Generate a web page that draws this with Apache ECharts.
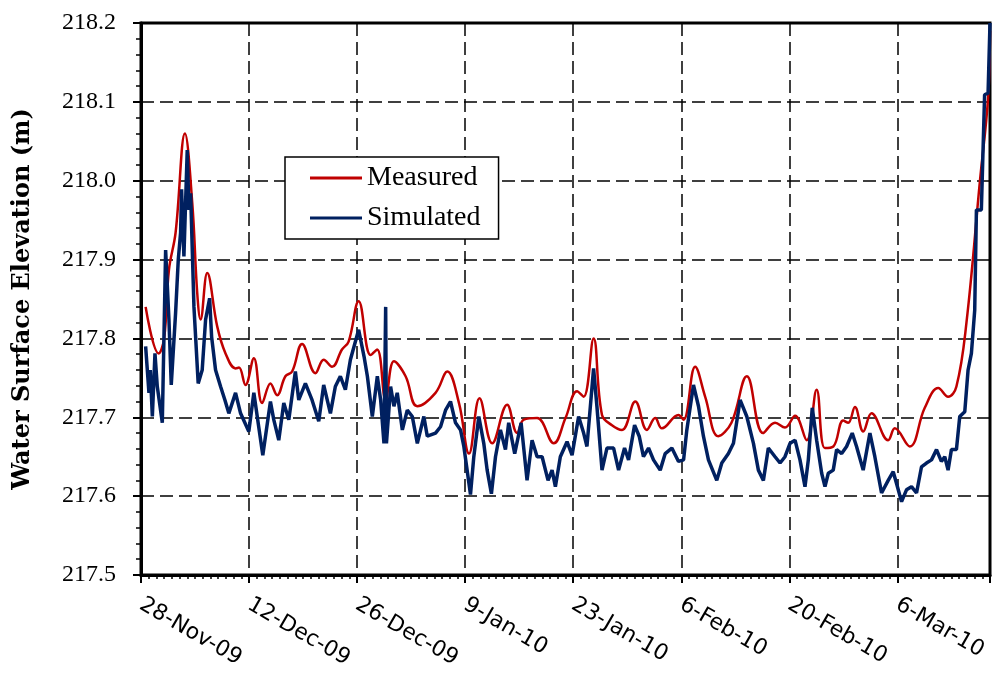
<!DOCTYPE html>
<html>
<head>
<meta charset="utf-8">
<script src="https://cdn.jsdelivr.net/npm/echarts@6/dist/echarts.min.js"></script>
<style>
html,body{margin:0;padding:0;background:#fff;}
#chart{width:997px;height:673px;}
</style>
</head>
<body>
<div id="chart"></div>
<script>
// x values: days since 28-Nov-2009
const tickLabels = ['28-Nov-09','12-Dec-09','26-Dec-09','9-Jan-10','23-Jan-10','6-Feb-10','20-Feb-10','6-Mar-10'];
const xMaxDay = 110; // 18-Mar-10

const measuredDay = [0.6,2.3,3.0,3.62,4.48,5.69,6.64,7.29,7.72,8.58,9.88,10.95,12.25,12.7,13.54,14.62,15.7,16.77,17.64,18.71,19.58,20.87,22.6,23.67,24.75,26.04,26.9,28.2,29.75,30.6,31.7,32.77,34.28,35.8,38.16,39.68,41.2,42.5,43.86,45.5,47.44,48.73,49.6,51.32,53.47,55.0,56.5,57.35,58.64,59.73,61.02,62.32,64.04,65.55,66.62,67.49,69.64,70.3,71.8,73.1,74.8,76.5,78.5,80.6,82.15,83.44,84.74,86.25,87.54,88.6,89.7,90.98,91.63,92.5,93.57,94.65,96.8,97.67,99.6,101.55,103.3,104.57,105.65,106.95,108.7,109.75,110];
const measuredVal = [217.840,217.781,217.800,217.887,217.934,218.060,217.972,217.857,217.824,217.883,217.815,217.781,217.762,217.763,217.741,217.775,217.718,217.743,217.728,217.752,217.758,217.793,217.756,217.773,217.764,217.786,217.796,217.847,217.779,217.786,217.722,217.771,217.752,217.714,217.731,217.758,217.718,217.654,217.724,217.667,217.716,217.680,217.697,217.699,217.667,217.699,217.733,217.726,217.800,217.703,217.690,217.684,217.720,217.684,217.699,217.686,217.703,217.697,217.764,217.726,217.676,217.693,217.752,217.680,217.693,217.687,217.702,217.671,217.735,217.661,217.663,217.696,217.693,217.713,217.682,217.705,217.671,217.686,217.663,217.712,217.737,217.726,217.739,217.820,218.000,218.105,218.190];

const simulatedDay = [0.6,1.03,1.2,1.47,1.81,2.11,2.76,3.19,3.62,3.92,4.48,4.83,5.13,5.26,5.56,5.99,6.21,6.43,6.86,7.41,7.93,8.37,8.89,9.15,9.66,10.31,10.87,11.38,12.25,12.9,13.97,14.62,15.78,16.77,17.2,17.85,18.5,19.15,20.0,20.44,21.3,22.16,23.03,23.67,24.54,25.18,25.83,26.48,27.13,28.2,28.9,29.33,29.97,30.62,31.05,31.48,31.7,31.8,32.34,32.77,33.2,33.86,34.5,35.15,35.8,36.65,37.09,38.16,38.81,39.46,40.1,40.75,41.4,41.83,42.69,43.12,43.77,44.41,44.85,45.4,45.93,46.57,47.22,47.64,48.42,49.25,50.02,50.67,51.32,51.97,52.74,53.26,53.69,54.33,55.2,55.85,56.7,57.35,57.78,58.64,59.07,59.73,60.37,61.23,61.88,62.65,63.17,63.95,64.55,65.1,65.76,66.4,67.27,67.92,68.78,69.64,70.3,70.72,71.58,72.23,72.87,73.52,74.6,75.25,76.11,76.76,77.62,78.49,79.35,79.99,80.64,81.28,82.15,82.8,83.44,84.09,84.74,85.38,86.03,86.46,86.97,87.54,88.19,88.62,89.05,89.69,90.13,90.78,91.42,92.15,92.71,93.57,94.44,95.08,95.95,96.81,97.46,97.89,98.54,99.18,99.83,100.48,101.12,101.77,102.42,103.07,103.7,104.14,104.57,105.0,105.65,106.08,106.73,107.16,107.59,108.02,108.24,108.88,109.3,109.75,110];
const simulatedVal = [217.790,217.731,217.760,217.701,217.781,217.739,217.693,217.912,217.824,217.741,217.832,217.900,217.934,217.989,217.904,218.039,217.963,217.984,217.840,217.743,217.760,217.824,217.851,217.802,217.760,217.739,217.722,217.705,217.731,217.705,217.682,217.731,217.652,217.720,217.697,217.671,217.718,217.697,217.758,217.722,217.743,217.722,217.695,217.741,217.705,217.739,217.752,217.735,217.773,217.811,217.777,217.752,217.701,217.752,217.722,217.667,217.840,217.667,217.739,217.714,217.731,217.684,217.709,217.701,217.667,217.701,217.676,217.680,217.688,217.709,217.720,217.693,217.684,217.663,217.602,217.650,217.701,217.667,217.633,217.603,217.650,217.684,217.659,217.693,217.654,217.693,217.620,217.671,217.650,217.650,217.620,217.633,217.612,217.650,217.669,217.652,217.701,217.680,217.663,217.762,217.714,217.633,217.661,217.661,217.633,217.661,217.646,217.690,217.676,217.650,217.661,217.646,217.633,217.654,217.661,217.644,217.646,217.684,217.741,217.714,217.676,217.646,217.620,217.642,217.654,217.667,217.722,217.701,217.667,217.633,217.620,217.661,217.650,217.642,217.650,217.667,217.671,217.646,217.612,217.646,217.712,217.671,217.629,217.612,217.629,217.633,217.659,217.654,217.663,217.680,217.663,217.633,217.680,217.650,217.604,217.620,217.631,217.616,217.593,217.608,217.612,217.604,217.637,217.642,217.646,217.659,217.644,217.650,217.633,217.659,217.659,217.701,217.707,217.760,217.781,217.836,217.963,217.963,218.109,218.111,218.200];

const zip = (xs, ys) => xs.map((x, i) => [x, ys[i]]);

const chart = echarts.init(document.getElementById('chart'), null, {renderer: 'canvas'});
const gridDash = {color: '#000', width: 1.5, type: [13, 6]};
chart.setOption({
  animation: false,
  backgroundColor: '#fff',
  grid: {left: 141, top: 23, width: 849, height: 552, show: true, borderColor: '#000', borderWidth: 3, backgroundColor: 'transparent'},
  legend: {
    data: [
      {name: 'Measured', icon: 'rect', itemStyle: {color: '#c00000'}},
      {name: 'Simulated', icon: 'rect', itemStyle: {color: '#002060'}}
    ],
    orient: 'vertical', left: 285, top: 157,
    itemWidth: 52, itemHeight: 3, itemGap: 12,
    padding: [7, 18, 7, 25],
    borderColor: '#000', borderWidth: 1.5, backgroundColor: '#fff',
    textStyle: {fontFamily: 'Liberation Serif', fontSize: 28, color: '#000'}
  },
  xAxis: [{
    type: 'value', min: 0, max: xMaxDay, interval: 14,
    axisLine: {lineStyle: {color: '#000', width: 3}},
    axisTick: {length: 8, lineStyle: {color: '#000', width: 2}},
    splitLine: {show: true, lineStyle: gridDash},
    axisLabel: {
      rotate: -30, margin: 28, color: '#000', fontFamily: 'DejaVu Sans', fontSize: 22,
      formatter: v => (v % 14 === 0 ? tickLabels[v / 14] : '')
    }
  }, {
    type: 'value', min: 0, max: xMaxDay, interval: 1, position: 'bottom',
    axisLine: {show: false},
    axisTick: {show: true, length: 4, lineStyle: {color: '#000', width: 1.5}},
    axisLabel: {show: false}, splitLine: {show: false}
  }],
  yAxis: {
    type: 'value', min: 217.5, max: 218.2, interval: 0.1,
    name: 'Water Surface Elevation (m)', nameLocation: 'middle', nameGap: 106,
    nameTextStyle: {fontFamily: 'DejaVu Serif', fontWeight: 'bold', fontSize: 24, color: '#000'},
    axisLine: {show: true, lineStyle: {color: '#000', width: 3}},
    axisTick: {show: true, length: 8, lineStyle: {color: '#000', width: 2}},
    minorTick: {show: true, splitNumber: 5, length: 5, lineStyle: {color: '#000', width: 1.5}},
    splitLine: {show: true, lineStyle: gridDash},
    axisLabel: {margin: 25, color: '#000', fontFamily: 'Liberation Serif', fontSize: 24, formatter: v => v.toFixed(1)}
  },
  series: [{
    name: 'Measured', type: 'line', xAxisIndex: 0, data: zip(measuredDay, measuredVal),
    symbol: 'none', smooth: 0.4, color: '#c00000', lineStyle: {color: '#c00000', width: 2.5}, z: 3
  }, {
    name: 'Simulated', type: 'line', xAxisIndex: 0, data: zip(simulatedDay, simulatedVal),
    symbol: 'none', color: '#002060', lineStyle: {color: '#002060', width: 3.5}, z: 4
  }]
});
</script>
</body>
</html>
